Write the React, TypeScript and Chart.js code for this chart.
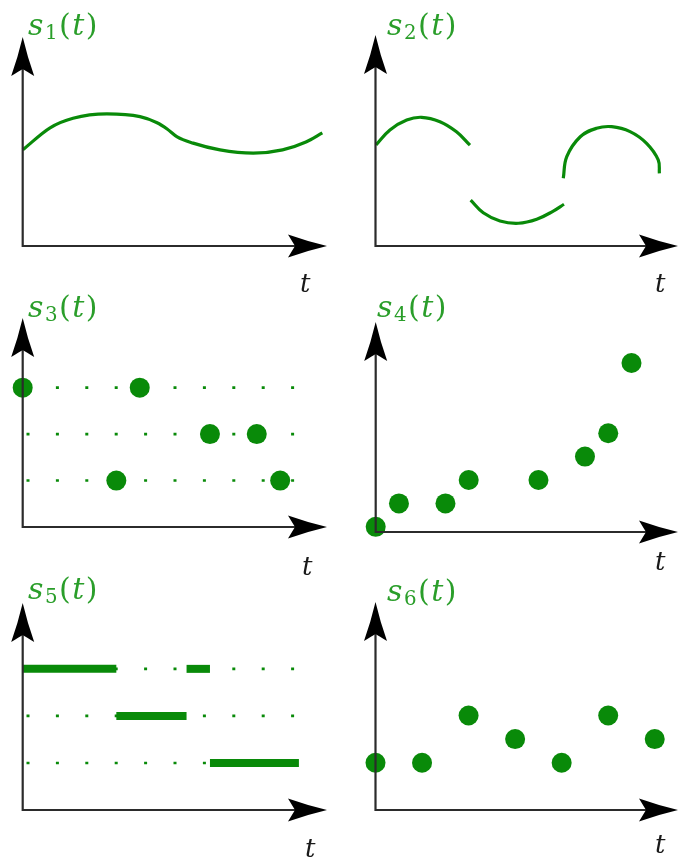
import React, { useEffect, useRef } from "react";
import { Chart, registerables } from "chart.js";
Chart.register(...registerables);

const MARK = "#098a09";
const TEXT_GREEN = "#2a9e2a";
const AXIS = "#2b2b2b";

// s1(t): smooth curve samples
const s1T = [0, 1.17, 2.15, 3.6, 5.01, 5.74, 6.17, 6.6, 7.28, 8.43, 9.85, 11.1, 12.1, 12.8];
const s1V = [4.14, 5.09, 5.5, 5.69, 5.57, 5.31, 5.04, 4.7, 4.43, 4.14, 4.0, 4.14, 4.48, 4.87];

// s2(t): three arcs
const s2aT = [0.02, 0.62, 1.34, 1.98, 2.77, 3.48, 4.06];
const s2aV = [4.31, 4.95, 5.37, 5.49, 5.3, 4.87, 4.3];
const s2bT = [4.09, 4.63, 5.35, 6.14, 6.93, 7.64, 8.1];
const s2bV = [1.96, 1.42, 1.07, 0.97, 1.14, 1.49, 1.78];
const s2cT = [8.07, 8.22, 8.8, 9.5, 10.15, 10.94, 11.65, 12.15, 12.2];
const s2cV = [2.89, 3.81, 4.66, 5.02, 5.09, 4.88, 4.38, 3.67, 3.1];

// s3(t): samples on three levels
const s3T = [0, 4, 5, 8, 10, 11];
const s3V = [6, 2, 6, 4, 4, 2];
const s3Levels = [2, 4, 6];

// s4(t)
const s4T = [0, 1, 3, 4, 7, 9, 10, 11];
const s4V = [0, 1, 1, 2, 2, 3, 4, 7];

// s5(t): piecewise constant segments
const s5Start = [0, 4, 7, 8];
const s5End = [4, 7, 8, 11.8];
const s5Level = [6, 4, 6, 2];
const s5Levels = [2, 4, 6];

// s6(t)
const s6T = [0, 2, 4, 6, 8, 10, 12];
const s6V = [2, 2, 4, 3, 2, 4, 3];

const guideEnd = 11.75;

const pts = (xs: number[], ys: number[]) => xs.map((x, i) => ({ x, y: ys[i] }));

const curve = (data: any[], mode: string = "default") => ({
  data,
  showLine: true,
  borderColor: MARK,
  borderWidth: 3.2,
  pointRadius: 0,
  tension: 0.4,
  cubicInterpolationMode: mode,
  fill: false,
  clip: false,
  order: 1,
  borderCapStyle: "butt",
});
const dots = (data: any[]) => ({
  data,
  showLine: false,
  pointRadius: 10,
  pointBackgroundColor: MARK,
  pointBorderColor: MARK,
  pointBorderWidth: 0,
  clip: false,
  order: 0,
});
const guides = (levels: number[]) =>
  levels.map((l) => ({
    data: [
      { x: 0, y: l },
      { x: guideEnd, y: l },
    ],
    showLine: true,
    borderColor: MARK,
    borderWidth: 2.6,
    borderDash: [3, 26.4],
    borderDashOffset: 25.6,
    borderCapStyle: "butt",
    pointRadius: 0,
    tension: 0,
    clip: false,
    order: 2,
  }));
const bars = (s: number[], e: number[], l: number[]) =>
  s.map((x, i) => ({
    data: [
      { x, y: l[i] },
      { x: e[i], y: l[i] },
    ],
    showLine: true,
    borderColor: MARK,
    borderWidth: 8,
    borderCapStyle: "butt",
    pointRadius: 0,
    tension: 0,
    clip: false,
    order: 1,
  }));

function drawArrow(ctx: CanvasRenderingContext2D, x: number, y: number, angle: number) {
  const L = 39, Wd = 11.5, N = 7;
  ctx.save();
  ctx.translate(x, y);
  ctx.rotate(angle);
  ctx.beginPath();
  ctx.moveTo(0, 0);
  ctx.quadraticCurveTo(-L * 0.5, -Wd * 0.4, -L, -Wd);
  ctx.quadraticCurveTo(-L + N * 0.7, -Wd * 0.3, -L + N, 0);
  ctx.quadraticCurveTo(-L + N * 0.7, Wd * 0.3, -L, Wd);
  ctx.quadraticCurveTo(-L * 0.5, Wd * 0.4, 0, 0);
  ctx.closePath();
  ctx.fillStyle = "#000";
  ctx.fill();
  ctx.restore();
}

const axesPlugin = {
  id: "arrowAxes",
  afterDatasetsDraw(chart: any) {
    const { ctx, chartArea } = chart;
    const { left, top, right, bottom } = chartArea;
    ctx.save();
    ctx.strokeStyle = AXIS;
    ctx.lineWidth = 2.2;
    ctx.lineJoin = "miter";
    ctx.beginPath();
    ctx.moveTo(left, top + 30);
    ctx.lineTo(left, bottom);
    ctx.lineTo(right - 30, bottom);
    ctx.stroke();
    drawArrow(ctx, right, bottom, 0);
    drawArrow(ctx, left, top, -Math.PI / 2);
    ctx.restore();
  },
};

type PanelDef = {
  cell: [number, number, number, number];
  origin: [number, number];
  tipX: number;
  tipY: number;
  yMin: number;
  yMax: number;
  datasets: any[];
  n: string;
  label: [number, number];
  tl: [number, number];
};

const panels: PanelDef[] = [
  {
    cell: [0, 0, 340, 290], origin: [22.7, 246], tipX: 327, tipY: 37, yMin: 0, yMax: 9,
    datasets: [curve(pts(s1T, s1V), "monotone")],
    n: "1", label: [28, 35], tl: [300, 292],
  },
  {
    cell: [340, 0, 339, 290], origin: [375.5, 246], tipX: 678, tipY: 35, yMin: 0, yMax: 9,
    datasets: [curve(pts(s2aT, s2aV)), curve(pts(s2bT, s2bV)), curve(pts(s2cT, s2cV))],
    n: "2", label: [387, 35], tl: [655, 292],
  },
  {
    cell: [0, 290, 340, 285], origin: [22.7, 527], tipX: 327, tipY: 318, yMin: 0, yMax: 9,
    datasets: [dots(pts(s3T, s3V)), ...guides(s3Levels)],
    n: "3", label: [28, 317], tl: [302, 575],
  },
  {
    cell: [340, 290, 339, 285], origin: [375.7, 532], tipX: 678, tipY: 322, yMin: -0.22, yMax: 8.75,
    datasets: [dots(pts(s4T, s4V))],
    n: "4", label: [377, 317], tl: [655, 570],
  },
  {
    cell: [0, 575, 340, 283], origin: [22.7, 810], tipX: 327, tipY: 603, yMin: 0, yMax: 8.8,
    datasets: [...bars(s5Start, s5End, s5Level), ...guides(s5Levels)],
    n: "5", label: [28, 599], tl: [305, 857],
  },
  {
    cell: [340, 575, 339, 283], origin: [375.5, 810], tipX: 678, tipY: 602, yMin: 0, yMax: 8.8,
    datasets: [dots(pts(s6T, s6V))],
    n: "6", label: [387, 601], tl: [655, 853],
  },
];

function Panel({ p }: { p: PanelDef }) {
  const ref = useRef<HTMLCanvasElement>(null);
  const [cl, ct, cw, ch] = p.cell;
  useEffect(() => {
    if (!ref.current) return;
    const chart = new Chart(ref.current, {
      type: "scatter",
      data: { datasets: p.datasets },
      options: {
        animation: false,
        responsive: false,
        devicePixelRatio: 1,
        events: [],
        layout: {
          autoPadding: false,
          padding: {
            left: p.origin[0] - cl,
            top: p.tipY - ct,
            right: cl + cw - p.tipX,
            bottom: ct + ch - p.origin[1],
          },
        },
        scales: {
          x: { type: "linear", display: false, min: 0, max: 13 },
          y: { type: "linear", display: false, min: p.yMin, max: p.yMax },
        },
        plugins: { legend: { display: false }, tooltip: { enabled: false } },
      } as any,
      plugins: [axesPlugin],
    });
    return () => chart.destroy();
  }, []);
  return (
    <canvas
      ref={ref}
      width={cw}
      height={ch}
      style={{ position: "absolute", left: cl, top: ct, width: cw, height: ch }}
    />
  );
}

const FS = 30;
const TFS = 26;
const BASE_RATIO = 0.846;

function SLabel({ p }: { p: PanelDef }) {
  return (
    <div
      style={{
        position: "absolute",
        left: p.label[0],
        top: p.label[1] - BASE_RATIO * FS,
        fontFamily: '"DejaVu Serif", serif',
        fontSize: FS,
        lineHeight: `${FS}px`,
        letterSpacing: "1.5px",
        color: TEXT_GREEN,
        whiteSpace: "nowrap",
      }}
    >
      <i>s</i>
      <span style={{ fontSize: "0.66em", position: "relative", top: "0.2em" }}>{p.n}</span>
      <span>(</span>
      <i>t</i>
      <span>)</span>
    </div>
  );
}

function TLabel({ p }: { p: PanelDef }) {
  return (
    <div
      style={{
        position: "absolute",
        left: p.tl[0],
        top: p.tl[1] - BASE_RATIO * TFS,
        fontFamily: '"DejaVu Serif", serif',
        fontSize: TFS,
        lineHeight: `${TFS}px`,
        color: "#1a1a1a",
        fontStyle: "italic",
      }}
    >
      t
    </div>
  );
}

export default function App() {
  return (
    <div
      style={{
        position: "absolute",
        left: 0,
        top: 0,
        width: 679,
        height: 858,
        background: "#fff",
        overflow: "hidden",
      }}
    >
      {panels.map((p, i) => (
        <Panel key={"c" + i} p={p} />
      ))}
      {panels.map((p, i) => (
        <SLabel key={"s" + i} p={p} />
      ))}
      {panels.map((p, i) => (
        <TLabel key={"t" + i} p={p} />
      ))}
    </div>
  );
}
